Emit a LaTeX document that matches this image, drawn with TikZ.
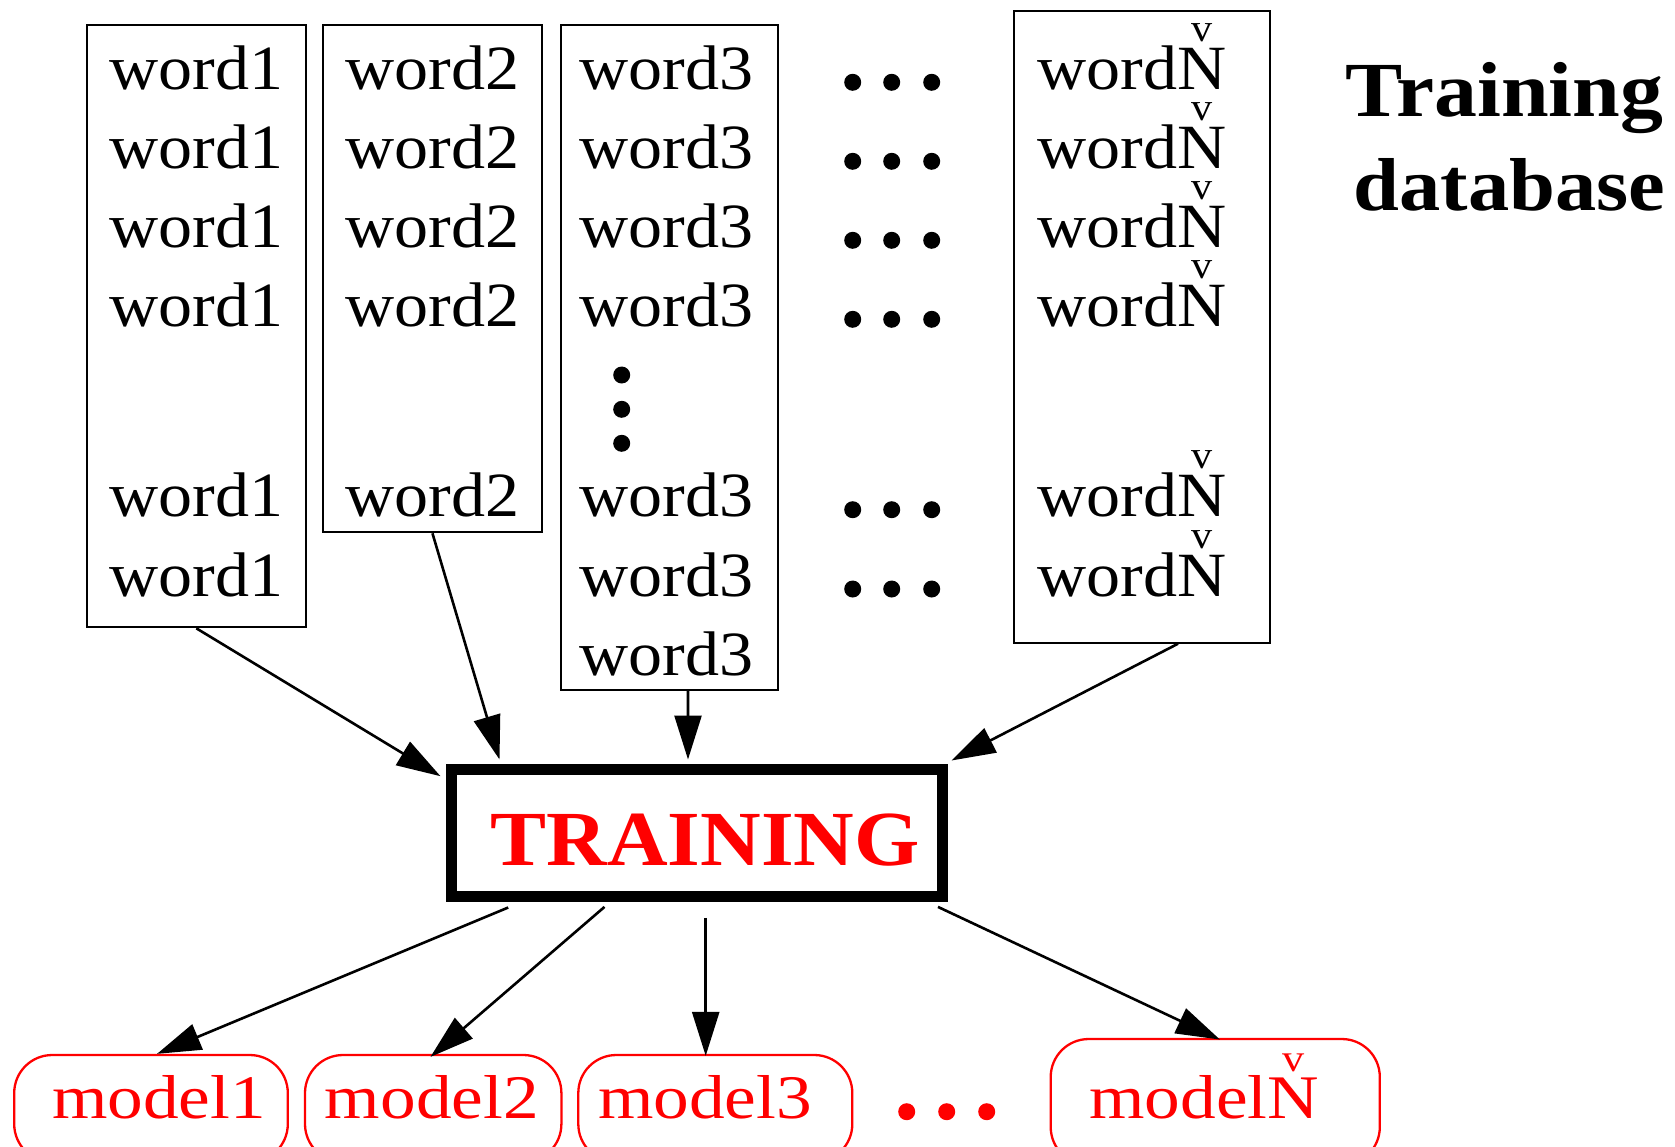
\documentclass[tikz,border=0pt]{standalone}
\usepackage{fontspec}
\setmainfont{Liberation Serif}
\newfontfamily\wordfont{Liberation Serif}[FakeStretch=1.08]
\newfontfamily\modelfont{Liberation Serif}[FakeStretch=1.15]
\newfontfamily\trainfont{Liberation Serif}[FakeStretch=1.077]
\newfontfamily\headfont{Liberation Serif}[FakeStretch=1.10]
\usetikzlibrary{arrows.meta, fit, calc}

% N with a small "v" set above it
\newcommand\chkN{\ooalign{N\cr\hidewidth\raisebox{0.76em}{\scalebox{0.62}{v}}\hidewidth\cr}}

\tikzset{
  colbox/.style={draw, line width=1pt, inner sep=0pt},
  wordtxt/.style={anchor=base west, inner sep=0pt, font=\wordfont\fontsize{31.5}{31.5}\selectfont},
  modelbox/.style={draw=red, line width=1.15pt, rounded corners=19pt, inner sep=0pt},
  modeltxt/.style={anchor=base west, inner sep=0pt, text=red, font=\modelfont\fontsize{31}{31}\selectfont},
  trainbox/.style={draw, line width=5.5pt, inner sep=0pt},
  traintxt/.style={anchor=base west, inner sep=0pt, text=red, font=\trainfont\bfseries\fontsize{39}{39}\selectfont},
  headtxt/.style={anchor=base west, inner sep=0pt, font=\headfont\bfseries\fontsize{37.5}{37.5}\selectfont},
  conn/.style={line width=1.3pt, -{Triangle[length=22pt, width=13.5pt]}},
  bigdot/.style={fill, circle, inner sep=0pt, minimum size=8.5pt},
}

\begin{document}
\begin{tikzpicture}[x=0.5pt, y=-0.5pt]
  \useasboundingbox (0,0) rectangle (1675,1146);
  \fill[white] (0,0) rectangle (1675,1146);
  \clip (0,0) rectangle (1675,1146);

  % word columns
  \node[colbox, fit={(86.7,25) (306,627.3)}] (col1) {};
  \node[colbox, fit={(323.3,25) (541.6,532.3)}] (col2) {};
  \node[colbox, fit={(560.7,25) (778.3,690)}] (col3) {};
  \node[colbox, fit={(1014,10.5) (1270,642.7)}] (colN) {};

  \foreach \i/\y in {1/89.3,2/168.3,3/247.3,4/326.3,5/516.7,6/596}{
    \node[wordtxt] (wa\i) at (109.3,\y) {word1};
    \node[wordtxt] (wn\i) at (1037.3,\y) {word\chkN};
    \node[bigdot] (dl\i) at (852.7,{\y-7}) {};
    \node[bigdot] (dm\i) at (891.7,{\y-7}) {};
    \node[bigdot] (dr\i) at (931.7,{\y-7}) {};
  }
  \foreach \i/\y in {1/89.3,2/168.3,3/247.3,4/326.3,5/516.7}{
    \node[wordtxt] (wb\i) at (345,\y) {word2};
  }
  \foreach \i/\y in {1/89.3,2/168.3,3/247.3,4/326.3,5/516.7,6/596,7/675}{
    \node[wordtxt] (wc\i) at (579.3,\y) {word3};
  }
  \foreach \i/\y in {1/375,2/409.3,3/443.3}{
    \node[bigdot] (vd\i) at (621.7,\y) {};
  }

  % caption
  \node[headtxt, font=\headfont\bfseries\fontsize{39}{39}\selectfont] (head1) at (1345,116) {Training};
  \node[headtxt] (head2) at (1353,210) {database};

  % training block
  \node[trainbox, fit={(451,769.7) (942,896.4)}] (train) {};
  \node[traintxt] (trainlbl) at (490,865.7) {TRAINING};

  % models
  \node[modelbox, fit={(14.2,1055) (287.8,1162)}] (m1) {};
  \node[modelbox, fit={(305,1055) (561.4,1162)}] (m2) {};
  \node[modelbox, fit={(578.3,1055) (852.3,1162)}] (m3) {};
  \node[modelbox, fit={(1050.7,1039) (1379.8,1165)}] (mN) {};
  \node[modeltxt] (t1) at (51.7,1118.3) {model1};
  \node[modeltxt] (t2) at (324.5,1118.3) {model2};
  \node[modeltxt] (t3) at (597.7,1118.3) {model3};
  \node[modeltxt] (tN) at (1089,1118.3) {model\chkN};
  \foreach \i/\x in {1/906.7,2/946.7,3/986.7}{
    \node[bigdot, fill=red] (rd\i) at (\x,1111.7) {};
  }

  % columns into training
  \draw[conn] (col1.south) -- ([shift={(-5,12)}]train.north west);
  \draw[conn] (col2.south) -- ([shift={(54,-4.7)}]train.north west);
  \draw[conn] ([xshift=9.25pt]col3.south) -- ([shift={(-8.5,-4.7)}]train.north);
  \draw[conn] ([xshift=18pt]colN.south) -- ([shift={(4,-3.7)}]train.north east);

  % training into models
  \draw[conn] ([shift={(62.7,5.6)}]train.south west) -- ([xshift=3pt]m1.north);
  \draw[conn] ([shift={(159,5)}]train.south west) -- ([shift={(-2.7,3)}]m2.north);
  \draw[conn] ([shift={(9.2,16)}]train.south) -- ([shift={(-9.6,2)}]m3.north);
  \draw[conn] ([shift={(-9.5,5)}]train.south east) -- ([shift={(4.7,1.7)}]mN.north);
\end{tikzpicture}
\end{document}
